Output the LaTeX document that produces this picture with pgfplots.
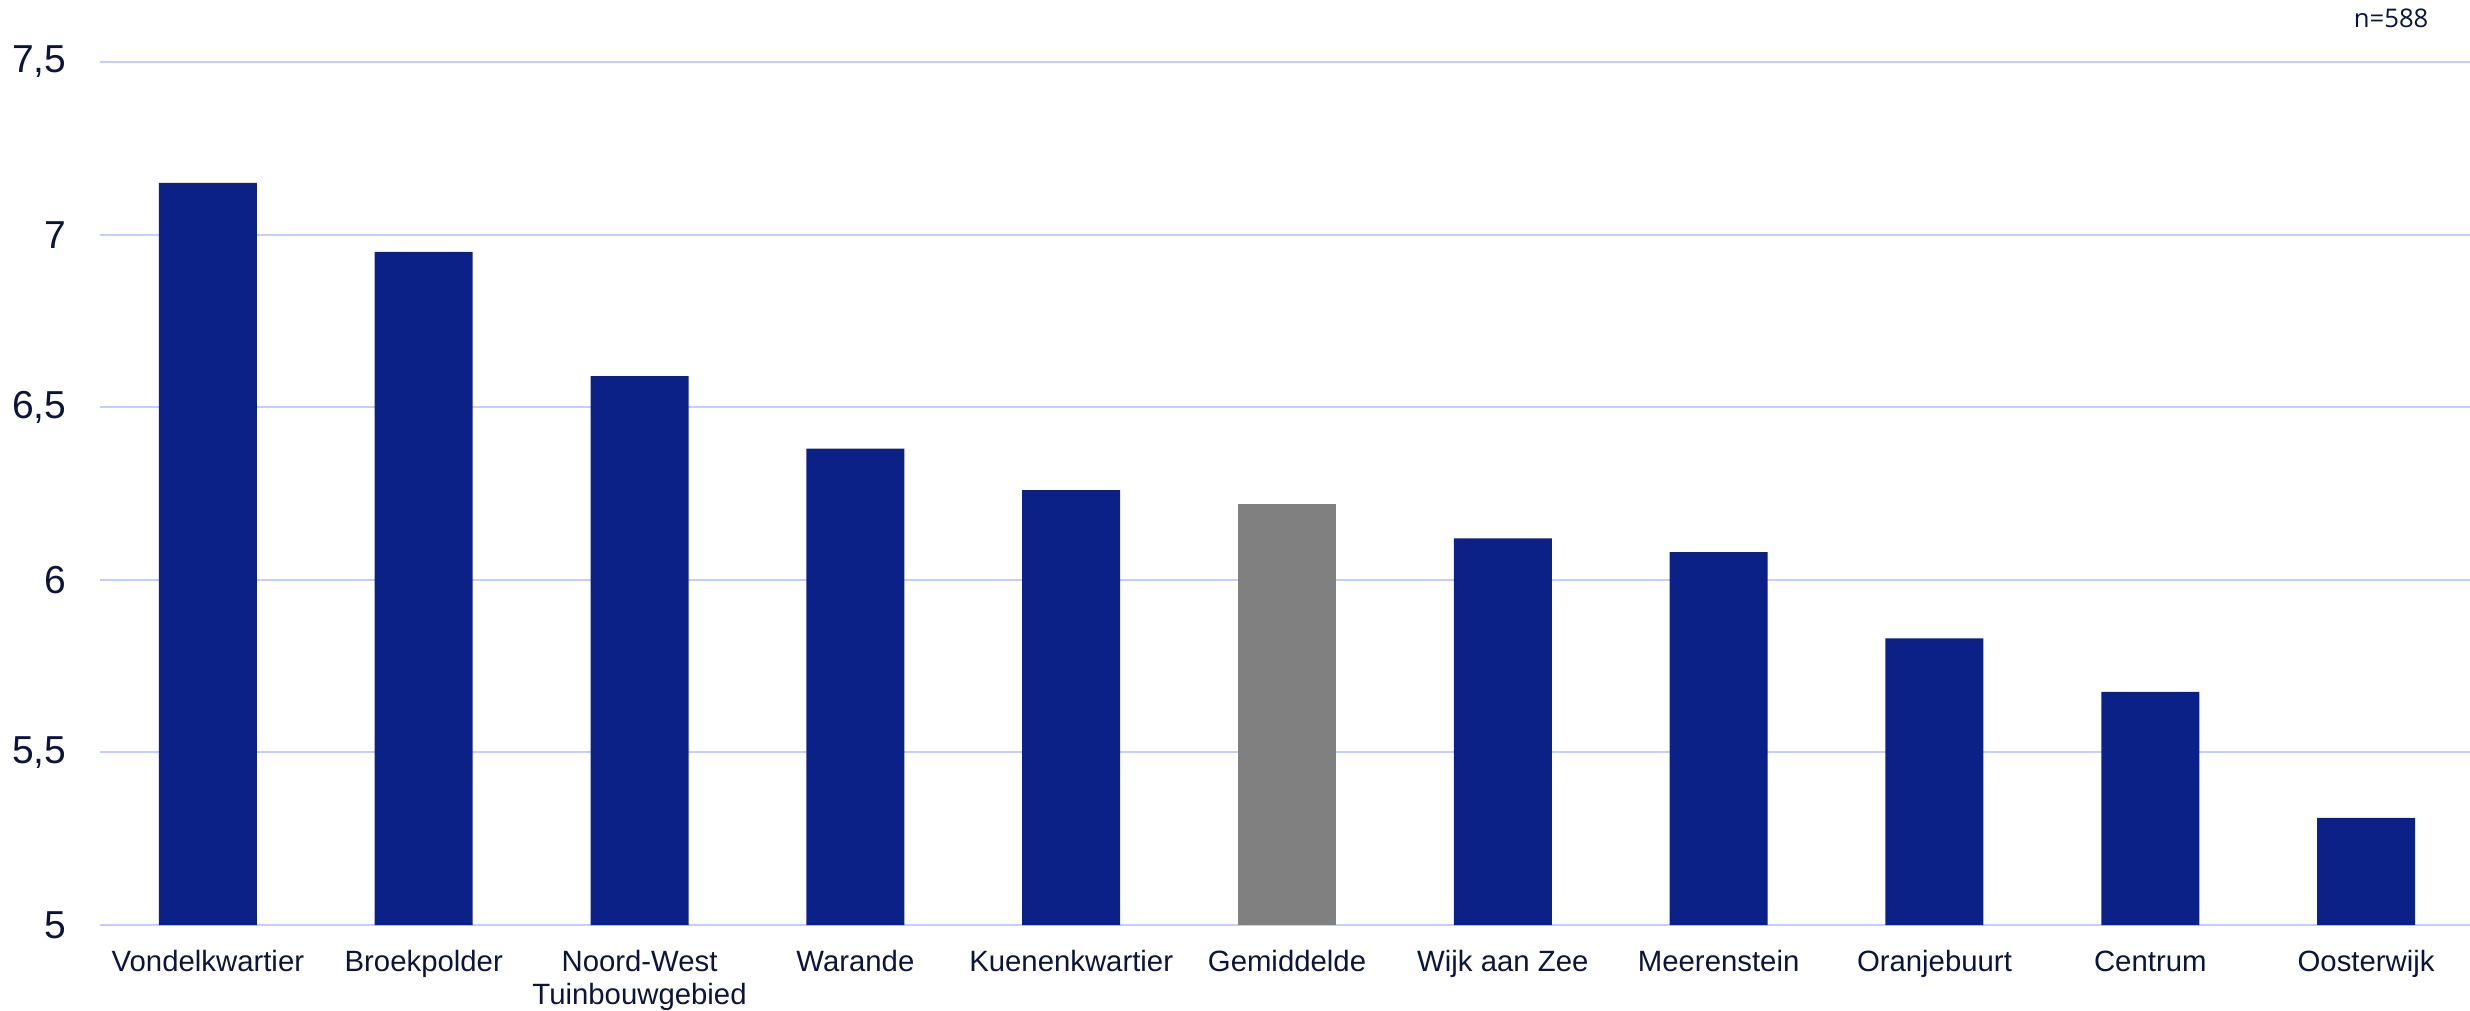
\documentclass[border=0pt]{standalone}
\usepackage{pgfplots}
\pgfplotsset{compat=1.18}
\usepackage{fontspec}
\setmainfont{Liberation Sans}
\newfontfamily\nfont{Open Sans}
\definecolor{barblue}{RGB}{12,33,136}
\definecolor{bargray}{RGB}{128,128,128}
\definecolor{gridc}{RGB}{197,205,250}
\definecolor{textc}{RGB}{12,20,60}
\begin{document}
\begin{tikzpicture}
\path[use as bounding box] (-30pt,-25.5pt) rectangle (711pt,277.5pt);
\begin{axis}[
  at={(0,0)}, anchor=south west,
  scale only axis, width=712.2pt, height=258.9pt,
  xmin=-0.5, xmax=10.5, ymin=5, ymax=7.5,
  ytick={5,5.5,6,6.5,7,7.5},
  yticklabels={5,{5,5},6,{6,5},7,{7,5}},
  xtick={0,1,2,3,4,5,6,7,8,9,10},
  xticklabels={Vondelkwartier,Broekpolder,{Noord-West\\Tuinbouwgebied},Warande,Kuenenkwartier,Gemiddelde,Wijk aan Zee,Meerenstein,Oranjebuurt,Centrum,Oosterwijk},
  xticklabel style={align=center, anchor=north, inner sep=0pt, yshift=-3.2pt, font=\fontsize{8.8}{9.9}\selectfont, text=textc},
  yticklabel style={anchor=east, inner sep=0pt, xshift=-9.9pt, font=\fontsize{11.7}{13}\selectfont, text=textc},
  axis line style={draw=none}, major tick style={draw=none},
  ymajorgrids, grid style={gridc, line width=0.6pt},
  ybar, bar width=29.4pt,
]
\addplot[fill=barblue, draw=none, bar shift=0pt] coordinates {
(0,7.15) (1,6.95) (2,6.59) (3,6.38) (4,6.26) (6,6.12) (7,6.08) (8,5.83) (9,5.675) (10,5.31)};
\addplot[fill=bargray, draw=none, bar shift=0pt] coordinates {(5,6.22)};
\end{axis}
\node[anchor=base east, inner sep=0pt, font=\nfont\fontsize{7.7}{9}\selectfont, text=textc] at (698.7pt,269.1pt) {n=588};
\end{tikzpicture}
\end{document}
